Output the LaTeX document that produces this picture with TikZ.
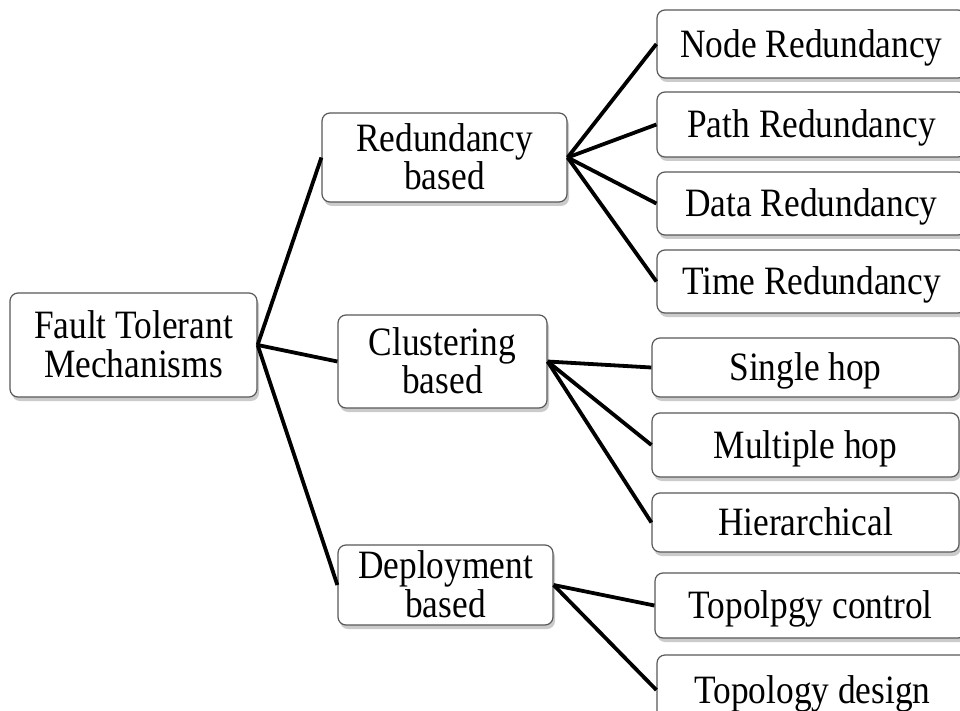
\documentclass[tikz,border=0pt]{standalone}
\usepackage{fontspec}
\setmainfont{Liberation Serif}
\usepackage{graphicx}
\usetikzlibrary{shadows}
\newcommand\boxtxt[1]{\raisebox{-4.5pt}[\height][\depth]{\scalebox{1.01}[1.15]{\fontsize{35}{31.5}\selectfont\begin{tabular}{@{}c@{}}#1\end{tabular}}}}
\tikzset{
  tbox/.style={draw=black!65, line width=1.2pt, rounded corners=8pt, fill=white,
    drop shadow={shadow xshift=2pt, shadow yshift=-4pt, fill=black!45, opacity=0.45},
    inner sep=0pt, anchor=center},
  link/.style={line width=3.8pt, black}
}
\begin{document}
\begin{tikzpicture}[x=1pt,y=-1pt]
\useasboundingbox (0,0) rectangle (960,711);
\clip (0,0) rectangle (960,711);
\fill[white] (0,0) rectangle (960,711);
% level 0
\node[tbox, minimum width=247pt, minimum height=104pt] (root) at (133.5,345) {\boxtxt{Fault Tolerant\\Mechanisms}};
% level 1
\node[tbox, minimum width=245pt, minimum height=89pt] (red) at (444.5,157.5) {\boxtxt{Redundancy\\based}};
\node[tbox, minimum width=209pt, minimum height=93pt] (clu) at (442.5,361.5) {\boxtxt{Clustering\\based}};
\node[tbox, minimum width=215pt, minimum height=80pt] (dep) at (445.5,585) {\boxtxt{Deployment\\based}};
% level 2
\node[tbox, minimum width=309pt, minimum height=68pt] (nr) at (811.5,44) {\boxtxt{Node Redundancy}};
\node[tbox, minimum width=309pt, minimum height=65pt] (pr) at (811.5,124.5) {\boxtxt{Path Redundancy}};
\node[tbox, minimum width=309pt, minimum height=63pt] (dr) at (811.5,203.5) {\boxtxt{Data Redundancy}};
\node[tbox, minimum width=309pt, minimum height=63pt] (tr) at (811.5,281.5) {\boxtxt{Time Redundancy}};
\node[tbox, minimum width=307pt, minimum height=59pt] (sh) at (805.5,367.5) {\boxtxt{Single hop}};
\node[tbox, minimum width=307pt, minimum height=64pt] (mh) at (805.5,445) {\boxtxt{Multiple hop}};
\node[tbox, minimum width=307pt, minimum height=59pt] (hi) at (805.5,522.5) {\boxtxt{Hierarchical}};
\node[tbox, minimum width=311pt, minimum height=65pt] (tc) at (810.5,605.5) {\boxtxt{Topolpgy control}};
\node[tbox, minimum width=311pt, minimum height=70pt] (td) at (812.5,690) {\boxtxt{Topology design}};
% connectors
\draw[link] (root.east) -- (red.west);
\draw[link] (root.east) -- (clu.west);
\draw[link] (root.east) -- (dep.west);
\foreach \c in {nr,pr,dr,tr} \draw[link] (red.east) -- (\c.west);
\foreach \c in {sh,mh,hi} \draw[link] (clu.east) -- (\c.west);
\foreach \c in {tc,td} \draw[link] (dep.east) -- (\c.west);
\end{tikzpicture}
\end{document}
